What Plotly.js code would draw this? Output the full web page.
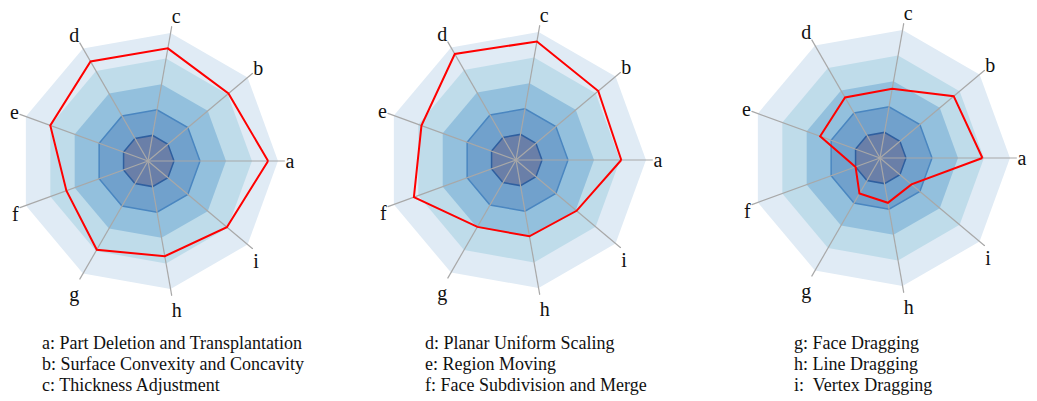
<!DOCTYPE html>
<html>
<head>
<meta charset="utf-8">
<script src="https://cdn.plot.ly/plotly-3.0.1.min.js"></script>
<style>html,body{margin:0;padding:0;background:#fff;}#chart{width:1037px;height:401px;}</style>
</head>
<body>
<div id="chart"></div>
<script>
const categories = ['a','b','c','d','e','f','g','h','i'];
const seriesA = [4.62, 4.04, 4.40, 4.42, 4.00, 3.34, 3.94, 3.72, 3.96];
const seriesB = [4.05, 4.13, 4.63, 4.71, 3.87, 4.18, 2.97, 2.98, 3.04];
const seriesC = [3.94, 3.70, 2.70, 2.69, 2.45, 1.00, 1.58, 1.75, 1.58];
const bandLevels = [5, 4, 3, 2, 1];
const spokeMax = 5.27;
const legendCol1 = ['a: Part Deletion and Transplantation', 'b: Surface Convexity and Concavity', 'c: Thickness Adjustment'];
const legendCol2 = ['d: Planar Uniform Scaling', 'e: Region Moving', 'f: Face Subdivision and Merge'];
const legendCol3 = ['g: Face Dragging', 'h: Line Dragging', 'i:  Vertex Dragging'];

const W = 1037, H = 401, R = 137;
const bandFill = ['#e0ebf5', '#bfdcea', '#93c0dd', '#71a1cc', '#6a7fa8'];
const bandLine = ['rgba(0,0,0,0)', 'rgba(0,0,0,0)', 'rgba(0,0,0,0)', '#4a86c0', '#2f5f9f'];
const serif = '"Liberation Serif", "Times New Roman", serif';

const allSeries = [seriesA, seriesB, seriesC];
const centers = [[148, 161], [516, 160], [880, 158]];
const traces = [];
const layout = {
  width: W, height: H,
  margin: {l: 0, r: 0, t: 0, b: 0},
  paper_bgcolor: '#fff',
  showlegend: false,
  annotations: []
};

allSeries.forEach((vals, k) => {
  const sp = k === 0 ? 'polar' : 'polar' + (k + 1);
  const [cx, cy] = centers[k];
  layout[sp] = {
    domain: {
      x: [(cx - R) / W, (cx + R) / W],
      y: [(H - cy - R) / H, (H - cy + R) / H]
    },
    bgcolor: 'rgba(0,0,0,0)',
    gridshape: 'linear',
    radialaxis: {range: [0, spokeMax], visible: false, showgrid: false, showline: false, showticklabels: false, ticks: ''},
    angularaxis: {
      type: 'category', categoryarray: categories, direction: 'counterclockwise', rotation: 0,
      showgrid: false, showline: false, ticks: '',
      tickfont: {family: serif, size: 20, color: '#111'}
    }
  };
  bandLevels.forEach((lv, j) => {
    traces.push({
      type: 'scatterpolar', subplot: sp, mode: 'lines',
      r: categories.map(() => lv).concat([lv]),
      theta: categories.concat([categories[0]]),
      fill: 'toself', fillcolor: bandFill[j],
      line: {color: bandLine[j], width: 1.5},
      hoverinfo: 'skip'
    });
  });
  categories.forEach(c => {
    traces.push({
      type: 'scatterpolar', subplot: sp, mode: 'lines',
      r: [0, spokeMax], theta: [c, c],
      line: {color: '#a8a8a8', width: 1.2},
      hoverinfo: 'skip'
    });
  });
  traces.push({
    type: 'scatterpolar', subplot: sp, mode: 'lines',
    r: vals.concat([vals[0]]),
    theta: categories.concat([categories[0]]),
    line: {color: '#ff0000', width: 2},
    hoverinfo: 'skip'
  });
});

const cols = [[legendCol1, 40], [legendCol2, 423], [legendCol3, 792]];
const rowsY = [343, 364, 385];
cols.forEach(([items, x]) => {
  items.forEach((t, i) => {
    layout.annotations.push({
      text: t, xref: 'paper', yref: 'paper',
      x: x / W, y: (H - rowsY[i]) / H,
      xanchor: 'left', yanchor: 'middle', showarrow: false,
      font: {family: serif, size: 18, color: '#111'}
    });
  });
});

Plotly.newPlot('chart', traces, layout, {displayModeBar: false, staticPlot: true});
</script>
</body>
</html>
